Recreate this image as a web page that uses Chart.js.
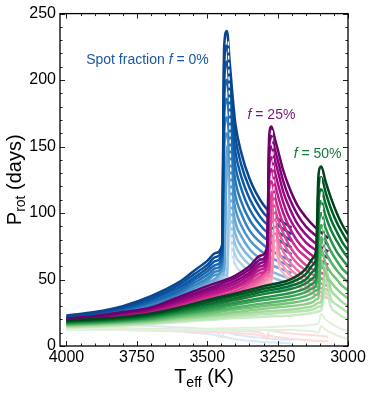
<!DOCTYPE html>
<html>
<head>
<meta charset="utf-8">
<script src="https://cdn.jsdelivr.net/npm/chart.js@4/dist/chart.umd.min.js"></script>
<style>
  html, body { margin: 0; padding: 0; background: #fff; }
</style>
</head>
<body>
<canvas id="prot" width="374" height="394"></canvas>
<script>
// ---- data: Teff (K) grids and Prot (days) per isochrone ----
const X_TICKS = [4000, 3750, 3500, 3250, 3000];
const Y_TICKS = [0, 50, 100, 150, 200, 250];

// f = 0% (blue), lines ordered oldest (dark) -> youngest (light)
const BLUE_T = [4000, 3900, 3800, 3700, 3600, 3550, 3500, 3470, 3447, 3440, 3430, 3420, 3410, 3400, 3380, 3350, 3300, 3250, 3200];
const BLUE_P = [
  [23.0, 25.5, 30.0, 37.5, 48, 56, 64, 70, 76, 225, 237, 213, 188, 167, 146, 126, 106, 96, 89],
  [22.5, 25.0, 29.0, 36.0, 46, 53.5, 61, 67, 73, 212, 226, 202, 177, 157, 137, 119, 100, 91, 84],
  [22.0, 24.5, 28.5, 35.0, 44, 51, 58.5, 64, 70, 198, 214, 190, 165, 146, 128, 111, 94, 86, 79],
  [21.5, 24.0, 27.5, 33.5, 42, 49, 56, 61, 67, 185, 200, 178, 153, 135, 119, 103, 88, 80, 74],
  [21.0, 23.0, 27.0, 32.5, 40.5, 47, 53.5, 58.5, 64, 172, 186, 165, 141, 124, 109, 95, 82, 75, 69],
  [20.5, 22.5, 26.0, 31.0, 39, 45, 51, 56, 61, 160, 172, 152, 129, 113, 100, 87, 76, 69, 64],
  [20.0, 22.0, 25.5, 30.0, 37, 43, 49, 53.5, 58.5, 148, 160, 139, 117, 103, 91, 80, 70, 64, 60],
  [19.5, 21.5, 24.5, 29.0, 35.5, 41, 47, 51, 56, 57, 150, 128, 106, 93, 83, 73, 64, 59, 55],
  [19.0, 21.0, 24.0, 28.0, 34, 39, 44.5, 49, 54, 55, 140, 117, 96, 84, 75, 67, 59, 54, 50],
  [18.5, 20.5, 23.0, 27.0, 33, 37.5, 42.5, 47, 52, 53, 54, 125, 87, 76, 68, 61, 54, 50, 46],
  [18.0, 20.0, 22.5, 26.0, 31.5, 36, 41, 45, 50, 51, 52, 118, 78, 68, 62, 56, 50, 46, 43],
  [17.5, 19.5, 22.0, 25.0, 30, 34.5, 39, 43, 48, 49, 50, 110, 70, 61, 56, 51, 46, 43, 40]
];
const BLUE_YOUNG_P = [
  [16, 16, 15.5, 15, 14, 13.5, 12.5, 11, 7, 10.5, 10, 9.5, 9, 8.5, 8, 7, 6, 5, 4.5],
  [14, 13.5, 13, 12, 11, 10, 9, 8, 6.5, 7, 6.5, 6, 5.5, 5, 4.5, 4, 3, 2.5, 2]
];
const BLUE_DASH_T = [3425, 3410];
const BLUE_DASH_P = [229, 57];

// f = 25% (pink)
const PINK_T = [4000, 3900, 3800, 3700, 3600, 3500, 3400, 3350, 3310, 3287, 3280, 3272, 3260, 3245, 3230, 3210, 3180, 3150, 3120, 3070];
const PINK_P = [
  [20.6, 22.5, 25.5, 29, 37, 45, 53, 60, 68, 75, 158, 165, 156, 144, 132, 120, 106, 97, 90, 81],
  [20.2, 22, 25, 28.5, 35.5, 43, 51, 57.5, 65, 72, 150, 158, 148, 136, 124, 112, 99, 90, 84, 76],
  [19.8, 21.5, 24.5, 27.5, 34, 41.5, 49, 55, 62.5, 69, 142, 150, 140, 128, 116, 105, 92, 84, 78, 71],
  [19.4, 21, 24, 27, 33, 40, 47, 53, 60, 66, 134, 142, 131, 119, 108, 97, 86, 78, 73, 66],
  [19, 20.5, 23, 26, 32, 38.5, 45, 51, 57.5, 63, 126, 133, 122, 110, 100, 90, 79, 72, 67, 61],
  [18.6, 20, 22.5, 25.5, 31, 37, 43.5, 49, 55, 60, 118, 124, 113, 101, 92, 83, 73, 67, 62, 57],
  [18.2, 19.5, 22, 25, 30, 35.5, 41.5, 47, 53, 57, 58.5, 116, 104, 93, 85, 76, 67, 61, 57, 53],
  [17.8, 19, 21.5, 24, 29, 34.5, 40, 45, 51, 55, 56, 108, 96, 85, 78, 70, 62, 57, 53, 49],
  [17.4, 18.5, 21, 23.5, 28, 33, 38, 43, 49, 53, 54, 100, 88, 78, 71, 64, 57, 52, 49, 45],
  [17, 18, 20.5, 23, 27, 32, 36.5, 41.5, 47, 51, 52, 53, 95, 71, 65, 59, 53, 48, 45, 42],
  [16.6, 17.5, 20, 22, 26, 31, 35, 40, 45, 49, 50, 51, 88, 65, 60, 54, 49, 45, 42, 39],
  [16.2, 17, 19.5, 21.5, 25, 30, 34, 38.5, 43.5, 47, 48, 49, 80, 60, 55, 50, 45, 42, 39, 36]
];
const PINK_YOUNG_P = [
  [14.5, 14, 13.5, 13, 12.5, 12, 11.5, 11, 10, 7, 12, 11.5, 11, 10.5, 10, 9.5, 9, 8.5, 8, 7],
  [13, 12.5, 12, 11.5, 11, 10.5, 10, 9, 8, 5.5, 8, 7.5, 7, 6.5, 6, 5.5, 5, 4.5, 4, 3.5]
];
const PINK_DASH_T = [3269, 3257];
const PINK_DASH_P = [162, 72];

// f = 50% (green)
const GREEN_T = [4000, 3900, 3800, 3700, 3600, 3500, 3400, 3300, 3200, 3150, 3125, 3113, 3105, 3095, 3080, 3060, 3040, 3020, 3000];
const GREEN_P = [
  [19.3, 20.3, 21.8, 24.5, 29, 34.5, 39.5, 45, 50.5, 58, 66, 73, 128, 135, 124, 111, 100, 91, 84],
  [18.8, 19.8, 21.2, 23.8, 28, 33, 38, 43, 48, 54, 61, 67, 118, 127, 116, 103, 93, 85, 78],
  [18.3, 19.3, 20.6, 23, 27, 31.5, 36, 41, 45.5, 50, 56, 61, 108, 118, 107, 95, 86, 78, 72],
  [17.8, 18.8, 20, 22.3, 26, 30, 34.5, 39, 43, 47, 51, 56, 98, 109, 98, 87, 79, 72, 66],
  [17.3, 18.3, 19.5, 21.5, 25, 28.5, 32.5, 36.5, 40, 43.5, 47, 51, 88, 100, 89, 79, 71, 65, 60],
  [16.8, 17.7, 19, 20.8, 24, 27, 31, 34.5, 37.5, 40.5, 43.5, 46, 78, 91, 80, 71, 64, 58, 54],
  [16.3, 17.2, 18.4, 20, 23, 26, 29, 32, 35, 37.5, 40, 42, 43, 82, 71, 63, 57, 52, 48],
  [15.8, 16.7, 17.8, 19.3, 22, 24.5, 27.5, 30, 32.5, 34.5, 36.5, 38.5, 39.5, 73, 62, 55, 50, 45, 42],
  [15.3, 16.1, 17.2, 18.6, 21, 23, 25.5, 28, 30, 31.5, 33, 35, 36, 64, 54, 48, 43, 39, 36],
  [14.8, 15.6, 16.6, 17.9, 20, 22, 24, 26, 27.5, 29, 30, 31.5, 32.5, 33.5, 58, 42, 37, 33, 30],
  [14.3, 15, 16, 17.2, 19, 20.5, 22.5, 24, 25.5, 26.5, 27.5, 28.5, 29.5, 30, 50, 35, 31, 28, 25],
  [13.8, 14.5, 15.4, 16.5, 18, 19.5, 21, 22, 23, 24, 25, 25.5, 26, 27, 42, 29, 25, 22, 20]
];
const GREEN_YOUNG_P = [
  [12.5, 12.5, 12.5, 12.5, 12.5, 13, 13.5, 14, 15, 15.5, 16, 16.5, 17, 24, 20, 17, 14.5, 12.5, 11],
  [12, 12, 12, 12, 12, 12, 12, 12, 12, 11.5, 11, 10.5, 10, 15, 12, 10, 8, 6.5, 5]
];
const GREEN_DASH_T = [3096, 3085];
const GREEN_DASH_P = [132, 72];

// ---- styling ----
const FONT = '"Liberation Sans", Arial, Helvetica, sans-serif';
const BLUE_STOPS = ['#08468e', '#0d5aa7', '#2a7aba', '#5a9fd1', '#93c3e2', '#c6dcef'];
const PINK_STOPS = ['#6c016b', '#990882', '#c51b8a', '#e6519b', '#f583ae', '#fbb6c6'];
const GREEN_STOPS = ['#00441b', '#006d2c', '#238b45', '#45ad5f', '#7cc67b', '#aadda4', '#c9eac2'];
const LINE_W = 2.5;

function hexToRgb(h) {
  const n = parseInt(h.slice(1), 16);
  return [(n >> 16) & 255, (n >> 8) & 255, n & 255];
}
function ramp(stops, t) {
  const pos = t * (stops.length - 1);
  const i = Math.min(Math.floor(pos), stops.length - 2);
  const f = pos - i;
  const a = hexToRgb(stops[i]), b = hexToRgb(stops[i + 1]);
  const c = a.map((v, k) => Math.round(v + (b[k] - v) * f));
  return `rgb(${c[0]},${c[1]},${c[2]})`;
}

function series(T, P, color, width, dash) {
  return {
    data: T.map((t, i) => ({ x: t, y: P[i] })),
    showLine: true,
    borderColor: color,
    backgroundColor: color,
    borderWidth: width,
    borderDash: dash || [],
    pointRadius: 0,
    pointHoverRadius: 0,
    cubicInterpolationMode: 'monotone',
    fill: false,
  };
}

function family(T, lines, young, youngColor, stops, dashT, dashP) {
  const out = [];
  young.forEach(p => out.push(series(T, p, youngColor, 2)));
  // light first, darkest last so the dark edge sits on top
  for (let i = lines.length - 1; i >= 0; i--) {
    out.push(series(T, lines[i], ramp(stops, i / (lines.length - 1)), LINE_W));
  }
  out.push(series(dashT, dashP, '#ffffff', 1.4, [4, 3]));
  return out;
}

// bottom-to-top layering, reversed because Chart.js paints dataset 0 last
const layers = [
  ...family(BLUE_T, BLUE_P, BLUE_YOUNG_P, '#dbe8f6', BLUE_STOPS, BLUE_DASH_T, BLUE_DASH_P),
  ...family(PINK_T, PINK_P, PINK_YOUNG_P, '#fddcdc', PINK_STOPS, PINK_DASH_T, PINK_DASH_P),
  ...family(GREEN_T, GREEN_P, GREEN_YOUNG_P, '#e0f2db', GREEN_STOPS, GREEN_DASH_T, GREEN_DASH_P),
].reverse();

function drawRich(ctx, parts, x, y, align) {
  // parts: [text, font, dy]
  let total = 0;
  parts.forEach(p => { ctx.font = p[1]; total += ctx.measureText(p[0]).width; });
  let cx = align === 'center' ? x - total / 2 : x;
  parts.forEach(p => {
    ctx.font = p[1];
    ctx.fillText(p[0], cx, y + (p[2] || 0));
    cx += ctx.measureText(p[0]).width;
  });
}

const decor = {
  id: 'decor',
  afterDatasetsDraw(chart) {
    const { ctx, chartArea: a, scales: { x, y } } = chart;
    ctx.save();
    ctx.strokeStyle = '#222';
    ctx.lineWidth = 1;
    ctx.beginPath();
    for (let t = 3000; t <= 4000; t += 50) {
      const px = Math.round(x.getPixelForValue(t)) + 0.5;
      const len = t % 250 === 0 ? 5 : 2.5;
      ctx.moveTo(px, a.bottom); ctx.lineTo(px, a.bottom - len);
      ctx.moveTo(px, a.top); ctx.lineTo(px, a.top + len);
    }
    for (let v = 0; v <= 250; v += 10) {
      const py = Math.round(y.getPixelForValue(v)) + 0.5;
      const len = v % 50 === 0 ? 5 : 2.5;
      ctx.moveTo(a.left, py); ctx.lineTo(a.left + len, py);
      ctx.moveTo(a.right, py); ctx.lineTo(a.right - len, py);
    }
    ctx.stroke();
    ctx.strokeStyle = '#000';
    ctx.lineWidth = 1.3;
    ctx.strokeRect(a.left, a.top, a.right - a.left, a.bottom - a.top);

    // annotations
    ctx.textBaseline = 'middle';
    ctx.fillStyle = '#1b57a2';
    drawRich(ctx, [
      ['Spot fraction ', `14px ${FONT}`],
      ['f', `italic 14px ${FONT}`],
      [' = 0%', `14px ${FONT}`],
    ], x.getPixelForValue(3930), y.getPixelForValue(215), 'left');
    ctx.fillStyle = '#7a1679';
    drawRich(ctx, [
      ['f', `italic 14px ${FONT}`],
      [' = 25%', `14px ${FONT}`],
    ], x.getPixelForValue(3357), y.getPixelForValue(174), 'left');
    ctx.fillStyle = '#15793a';
    drawRich(ctx, [
      ['f', `italic 14px ${FONT}`],
      [' = 50%', `14px ${FONT}`],
    ], x.getPixelForValue(3193), y.getPixelForValue(144), 'left');

    // axis titles
    ctx.fillStyle = '#000';
    ctx.textBaseline = 'alphabetic';
    drawRich(ctx, [
      ['T', `20px ${FONT}`],
      ['eff', `14px ${FONT}`, 4],
      [' (K)', `20px ${FONT}`],
    ], (a.left + a.right) / 2, 383, 'center');

    ctx.translate(21, (a.top + a.bottom) / 2);
    ctx.rotate(-Math.PI / 2);
    drawRich(ctx, [
      ['P', `20px ${FONT}`],
      ['rot', `14px ${FONT}`, 4],
      [' (days)', `20px ${FONT}`],
    ], 0, 0, 'center');
    ctx.restore();
  }
};

new Chart(document.getElementById('prot'), {
  type: 'scatter',
  data: { datasets: layers },
  plugins: [decor],
  options: {
    responsive: false,
    animation: false,
    devicePixelRatio: 1,
    layout: { padding: { top: 13, right: 26, left: 0, bottom: 0 } },
    plugins: { legend: { display: false }, tooltip: { enabled: false } },
    scales: {
      x: {
        type: 'linear',
        reverse: true,
        min: 3000,
        max: 4023,
        grid: { display: false, drawTicks: false },
        border: { display: false },
        afterBuildTicks(s) { s.ticks = X_TICKS.map(v => ({ value: v })); },
        afterFit(s) { s.height = 48; },
        ticks: {
          color: '#000',
          padding: 2,
          maxRotation: 0,
          autoSkip: false,
          font: { family: FONT, size: 16 },
          callback: v => String(v),
        },
      },
      y: {
        min: 0,
        max: 250,
        grid: { display: false, drawTicks: false },
        border: { display: false },
        afterBuildTicks(s) { s.ticks = Y_TICKS.map(v => ({ value: v })); },
        afterFit(s) { s.width = 60; },
        ticks: {
          color: '#000',
          padding: 4,
          autoSkip: false,
          font: { family: FONT, size: 16 },
          callback: v => String(v),
        },
      },
    },
  },
});
</script>
</body>
</html>
